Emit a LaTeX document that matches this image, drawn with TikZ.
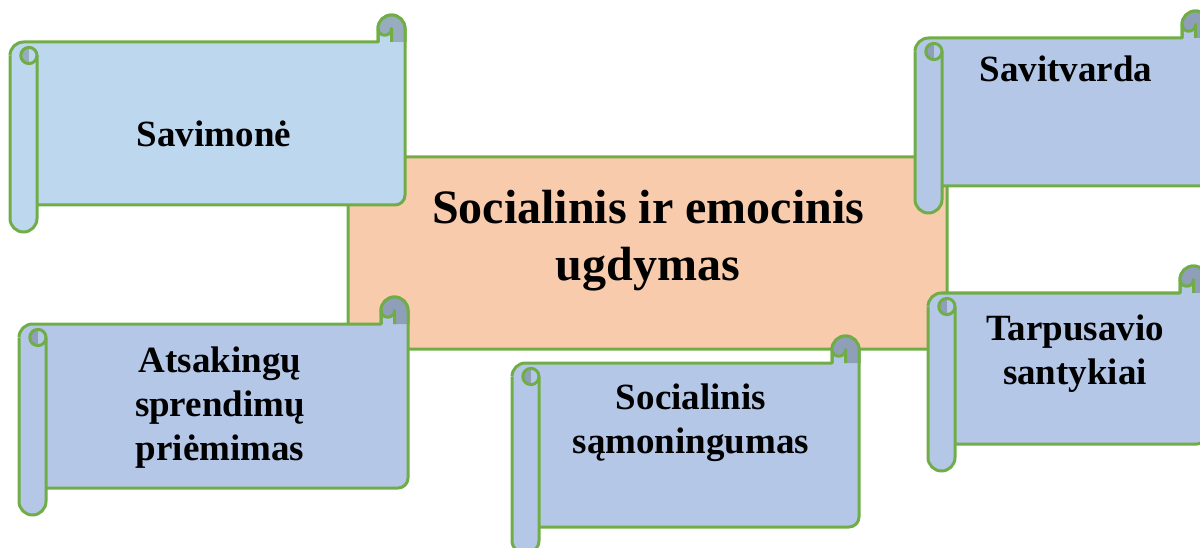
\documentclass[tikz,border=0pt]{standalone}
\usepackage{fontspec}
\setmainfont{Liberation Serif}
\definecolor{scrollgreen}{HTML}{70AD47}
\definecolor{hubpeach}{HTML}{F8CBAD}
\definecolor{paleblue}{HTML}{BDD7EE}
\definecolor{softblue}{HTML}{B4C7E7}
\newcommand{\rollr}{13.5}
\tikzset{
  scroll line/.style={draw=scrollgreen, line width=3pt, line join=round},
  hub/.style={draw=scrollgreen, line width=3pt, fill=hubpeach, rounded corners=12pt,
    minimum width=599pt, minimum height=192pt, inner sep=0pt},
  label/.style={font=\bfseries\fontsize{37}{44}\selectfont, align=center, anchor=base, inner sep=0pt},
  title/.style={font=\bfseries\fontsize{48}{57}\selectfont, align=center, anchor=base, inner sep=0pt}
}
% scroll: left x, top y, right x, bottom y, colour
\newcommand{\scrollshape}[5]{%
  \filldraw[scroll line, fill=#5] (#1,{#2+\rollr}) arc[start angle=180, end angle=270, radius=\rollr]
    -- ({#3-2*\rollr},#2) -- ({#3-2*\rollr},{#2-\rollr}) arc[start angle=180, end angle=360, radius=\rollr]
    -- (#3,{#4-10}) arc[start angle=0, end angle=90, radius=10] -- ({#1+2*\rollr},#4);
  \fill[#5!80!black] ({#3-2*\rollr},{#2-\rollr}) arc[start angle=180, end angle=360, radius=\rollr]
    -- (#3,#2) -- ({#3-\rollr},#2) -- ({#3-\rollr},{#2-\rollr}) arc[start angle=0, end angle=180, radius=.5*\rollr] -- cycle;
  \draw[scroll line] ({#3-2*\rollr},#2) -- ({#3-2*\rollr},{#2-\rollr}) arc[start angle=180, end angle=360, radius=\rollr] -- (#3,#2);
  \draw[scroll line] ({#3-\rollr},#2) -- ({#3-\rollr},{#2-\rollr}) arc[start angle=0, end angle=180, radius=.5*\rollr];
  \filldraw[scroll line, fill=#5] (#1,{#2+\rollr}) -- (#1,{#4+\rollr}) arc[start angle=180, end angle=0, radius=\rollr] -- ({#1+2*\rollr},{#2+\rollr});
  \fill[#5!80!black] ({#1+1.4*\rollr},{#2+.4*\rollr}) arc[start angle=270, end angle=90, radius=.6*\rollr] -- cycle;
  \draw[scroll line] ({#1+1.4*\rollr},{#2+\rollr}) circle[radius=.6*\rollr];
}
\begin{document}
\begin{tikzpicture}[x=1pt,y=-1pt]
	\useasboundingbox (0,0) rectangle (1200,548);
	\node[hub] (hub) at (647.5,253) {};
	\node[title] (sed) at (648,280) {Socialinis ir emocinis\\ugdymas};
	\scrollshape{10}{42}{405}{205}{paleblue}
	\node[label] (savimone) at (214,147) {Savimonė};
	\scrollshape{915}{38}{1209}{186}{softblue}
	\node[label] (savitvarda) at (1066,82) {Savitvarda};
	\scrollshape{19}{324}{408}{488}{softblue}
	\node[label] (atsakingu) at (220,460) {Atsakingų\\sprendimų\\priėmimas};
	\scrollshape{512}{363}{859}{527}{softblue}
	\node[label] (samoningumas) at (691,453) {Socialinis\\sąmoningumas};
	\scrollshape{928}{293}{1207}{444}{softblue}
	\node[label] (tarpusavio) at (1075,384) {Tarpusavio\\santykiai};
\end{tikzpicture}
\end{document}
